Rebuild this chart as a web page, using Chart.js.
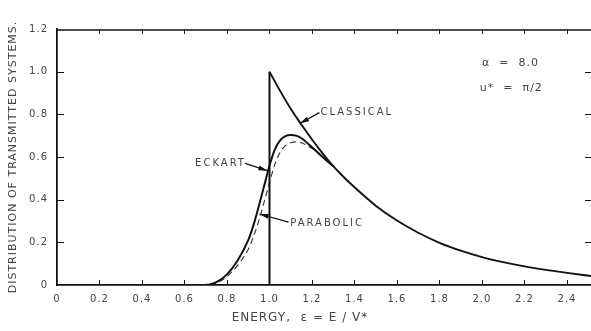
<!DOCTYPE html>
<html>
<head>
<meta charset="utf-8">
<script src="https://cdn.jsdelivr.net/npm/chart.js@4/dist/chart.umd.min.js"></script>
<style>
  html, body { margin: 0; padding: 0; background: #fff; }
  #wrap { width: 591px; height: 331px; }
</style>
</head>
<body>
<div id="wrap"><canvas id="distChart"></canvas></div>
<script>
// energy (E/V*) and distribution values
var classE = [1.0, 1.05, 1.1, 1.15, 1.2, 1.25, 1.3, 1.35, 1.4, 1.5, 1.6, 1.7, 1.8, 1.9, 2.0, 2.1, 2.2, 2.3, 2.4, 2.513];
var classV = [1.0, 0.91, 0.826, 0.752, 0.682, 0.617, 0.557, 0.505, 0.458, 0.372, 0.302, 0.245, 0.198, 0.161, 0.131, 0.107, 0.087, 0.071, 0.057, 0.042];

var eckE = [0.7, 0.72, 0.75, 0.8, 0.85, 0.9, 0.925, 0.95, 0.975, 1.0, 1.025, 1.05, 1.075, 1.1, 1.125, 1.15, 1.2, 1.25, 1.3];
var eckV = [0, 0.003, 0.013, 0.05, 0.115, 0.21, 0.282, 0.37, 0.465, 0.56, 0.635, 0.678, 0.698, 0.703, 0.70, 0.688, 0.646, 0.6, 0.557];

var parE = [0.72, 0.75, 0.8, 0.85, 0.9, 0.925, 0.95, 0.975, 1.0, 1.025, 1.05, 1.075, 1.1, 1.125, 1.15, 1.2, 1.25, 1.3];
var parV = [0, 0.008, 0.04, 0.092, 0.168, 0.228, 0.302, 0.39, 0.48, 0.565, 0.622, 0.653, 0.667, 0.671, 0.667, 0.64, 0.598, 0.557];

var yTicks = [0, 0.2, 0.4, 0.6, 0.8, 1.0, 1.2];

function pts(xs, ys) {
  return xs.map(function (x, i) { return { x: x, y: ys[i] }; });
}

var ink = '#111';
var txt = '#444';

// labels with arrows, placed in data units
var notes = [
  { text: 'CLASSICAL', at: [1.24, 0.81], from: [1.235, 0.808], to: [1.144, 0.758] },
  { text: 'ECKART', at: [0.65, 0.572], from: [0.885, 0.57], to: [0.99, 0.536] },
  { text: 'PARABOLIC', at: [1.098, 0.29], from: [1.09, 0.295], to: [0.953, 0.333] }
];

function arrow(ctx, x1, y1, x2, y2) {
  var a = Math.atan2(y2 - y1, x2 - x1);
  ctx.beginPath();
  ctx.moveTo(x1, y1);
  ctx.lineTo(x2, y2);
  ctx.stroke();
  ctx.beginPath();
  ctx.moveTo(x2, y2);
  ctx.lineTo(x2 - 9 * Math.cos(a) + 2.5 * Math.sin(a), y2 - 9 * Math.sin(a) - 2.5 * Math.cos(a));
  ctx.lineTo(x2 - 9 * Math.cos(a) - 2.5 * Math.sin(a), y2 - 9 * Math.sin(a) + 2.5 * Math.cos(a));
  ctx.closePath();
  ctx.fill();
}

var frame = {
  id: 'frame',
  beforeDraw: function (c) {
    c.ctx.letterSpacing = '1px';
  },
  afterDraw: function (c) {
    var ctx = c.ctx, a = c.chartArea, xs = c.scales.x, ys = c.scales.y;
    ctx.save();
    ctx.strokeStyle = ink;
    ctx.fillStyle = ink;
    ctx.lineWidth = 1.6;
    ctx.beginPath();
    ctx.moveTo(a.left, a.top + 1);
    ctx.lineTo(a.right, a.top + 1);
    ctx.stroke();
    ctx.lineWidth = 1;
    xs.ticks.forEach(function (t) {
      var px = Math.round(xs.getPixelForValue(t.value)) + 0.5;
      if (t.value === 0) return;
      ctx.beginPath();
      ctx.moveTo(px, a.bottom); ctx.lineTo(px, a.bottom - 5);
      ctx.moveTo(px, a.top); ctx.lineTo(px, a.top + 5);
      ctx.stroke();
    });
    yTicks.forEach(function (v) {
      if (v === 0 || v === 1.2) return;
      var py = Math.round(ys.getPixelForValue(v)) + 0.5;
      ctx.beginPath();
      ctx.moveTo(a.left, py); ctx.lineTo(a.left + 7, py);
      ctx.moveTo(a.right, py); ctx.lineTo(a.right - 6, py);
      ctx.stroke();
    });
    ctx.lineWidth = 1.2;
    ctx.font = '10px "DejaVu Sans"';
    ctx.letterSpacing = '2px';
    ctx.textBaseline = 'middle';
    notes.forEach(function (n) {
      ctx.fillStyle = txt;
      ctx.textAlign = 'left';
      ctx.fillText(n.text, xs.getPixelForValue(n.at[0]), ys.getPixelForValue(n.at[1]));
      ctx.fillStyle = ink;
      arrow(ctx, xs.getPixelForValue(n.from[0]), ys.getPixelForValue(n.from[1]),
        xs.getPixelForValue(n.to[0]), ys.getPixelForValue(n.to[1]));
    });
    ctx.fillStyle = txt;
    ctx.font = '11px "DejaVu Sans"';
    ctx.letterSpacing = '1px';
    ctx.fillText('\u03b1  =  8.0', xs.getPixelForValue(2.0), ys.getPixelForValue(1.04));
    ctx.fillText('u*  =  \u03c0/2', xs.getPixelForValue(1.99), ys.getPixelForValue(0.925));
    ctx.restore();
  }
};

new Chart(document.getElementById('distChart'), {
  type: 'line',
  data: {
    datasets: [{
        label: 'Classical step',
        data: [{ x: classE[0], y: 0 }, { x: classE[0], y: classV[0] }],
        borderColor: ink,
        borderWidth: 2,
        pointRadius: 0,
        tension: 0
      }, {
        label: 'Classical',
        data: pts(classE, classV),
        borderColor: ink,
        borderWidth: 1.9,
        pointRadius: 0,
        cubicInterpolationMode: 'monotone'
      }, {
        label: 'Eckart',
        data: pts(eckE, eckV),
        borderColor: ink,
        borderWidth: 2,
        pointRadius: 0,
        cubicInterpolationMode: 'monotone'
      }, {
        label: 'Parabolic',
        data: pts(parE, parV),
        borderColor: '#333',
        borderWidth: 1.1,
        borderDash: [6, 4],
        pointRadius: 0,
        cubicInterpolationMode: 'monotone'
      }
    ]
  },
  options: {
    responsive: true,
    maintainAspectRatio: false,
    animation: false,
    layout: { padding: { top: 29, right: 0, left: 0, bottom: 0 } },
    plugins: {
      legend: { display: false },
      tooltip: { enabled: false }
    },
    scales: {
      x: {
        type: 'linear',
        min: 0,
        max: 2.513,
        afterFit: function (s) { s.height = 46; },
        grid: { display: false, drawTicks: false },
        border: { display: true, color: ink, width: 1.8 },
        ticks: {
          stepSize: 0.2,
          includeBounds: false,
          padding: 8,
          color: txt,
          font: { family: 'DejaVu Sans', size: 10 },
          maxRotation: 0,
          callback: function (v) { return v === 0 ? '0' : v.toFixed(1); }
        },
        title: {
          display: true,
          text: 'ENERGY,  \u03b5 = E / V*          ',
          color: txt,
          font: { family: 'DejaVu Sans', size: 12 },
          padding: { top: 0, bottom: 6 }
        }
      },
      y: {
        min: 0,
        max: 1.2,
        afterFit: function (s) { s.width = 57; },
        grid: { display: false, drawTicks: false },
        border: { display: true, color: ink, width: 1.8 },
        ticks: {
          stepSize: 0.2,
          padding: 9,
          color: txt,
          font: { family: 'DejaVu Sans', size: 10 },
          callback: function (v) { return v === 0 ? '0' : v.toFixed(1); }
        },
        title: {
          display: true,
          text: 'DISTRIBUTION OF TRANSMITTED SYSTEMS.',
          color: txt,
          font: { family: 'DejaVu Sans', size: 11 },
          padding: { top: 7, bottom: 0 }
        }
      }
    }
  },
  plugins: [frame]
});
</script>
</body>
</html>
